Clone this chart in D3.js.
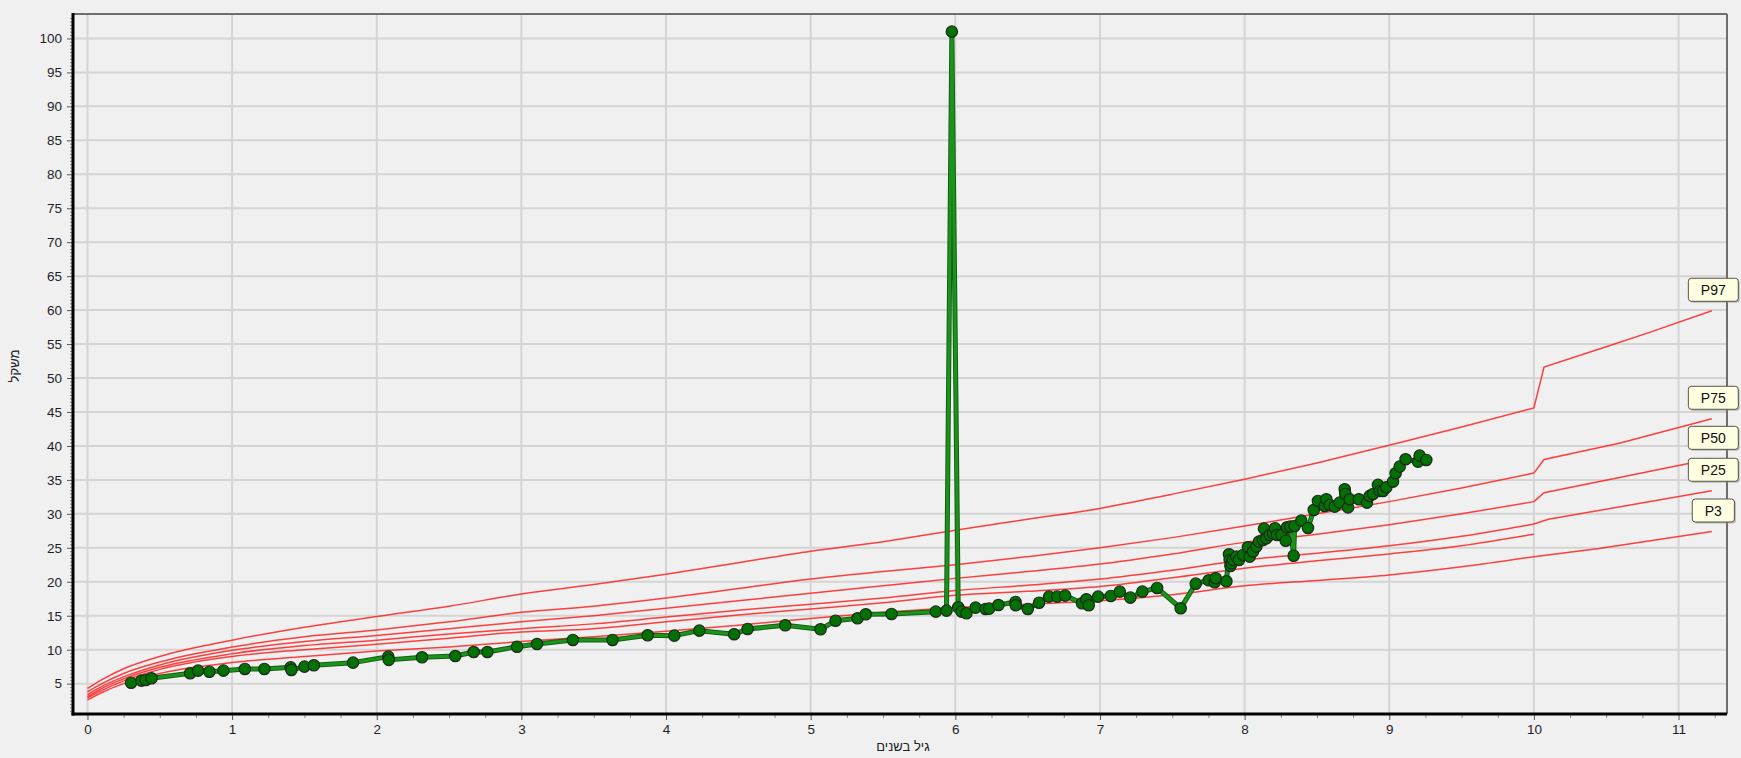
<!DOCTYPE html>
<html>
<head>
<meta charset="utf-8">
<script src="https://cdn.jsdelivr.net/npm/d3@7"></script>
<style>
  html, body { margin: 0; padding: 0; background: #f0f0f0; }
  svg { display: block; }
  text { font-family: "Liberation Sans", Arial, "DejaVu Sans", sans-serif; }
</style>
</head>
<body>
<svg id="chart" width="1741" height="758"></svg>
<script>
// ---------------- data ----------------
const xTicks = [0,1,2,3,4,5,6,7,8,9,10,11];
const yTicks = [5,10,15,20,25,30,35,40,45,50,55,60,65,70,75,80,85,90,95,100];
const xTitle = "גיל בשנים";
const yTitle = "משקל";

// percentile reference curves, ages 0..10
const curveAges = [0, 0.1, 0.25, 0.5, 1, 1.5, 2, 2.5, 3, 3.5, 4, 4.5, 5, 5.5, 6, 6.5, 7, 7.5, 8, 8.5, 9, 9.5, 10];
const p97 = [4.3, 5.6, 7.2, 9.0, 11.4, 13.3, 14.9, 16.4, 18.2, 19.6, 21.1, 22.8, 24.5, 25.9, 27.6, 29.2, 30.8, 32.9, 35.1, 37.5, 40.1, 42.8, 45.6];
const p75 = [3.8, 5.0, 6.5, 8.2, 10.4, 11.9, 12.9, 14.1, 15.5, 16.4, 17.6, 19.0, 20.4, 21.5, 22.5, 23.7, 25.0, 26.5, 28.2, 30.0, 31.8, 33.8, 36.0];
const p50 = [3.4, 4.6, 6.0, 7.75, 9.9, 11.2, 12.1, 13.1, 14.1, 15.0, 16.1, 17.2, 18.3, 19.4, 20.5, 21.5, 22.6, 24.1, 25.8, 27.0, 28.4, 30.0, 31.8];
const p25 = [3.1, 4.3, 5.7, 7.4, 9.4, 10.6, 11.4, 12.3, 13.1, 13.8, 14.8, 15.8, 16.7, 17.6, 18.7, 19.5, 20.4, 21.7, 23.2, 24.2, 25.3, 26.7, 28.5];
const p10 = [2.9, 4.0, 5.4, 7.1, 9.0, 10.0, 10.8, 11.7, 12.6, 13.1, 14.1, 15.1, 16.0, 16.9, 18.0, 18.6, 19.3, 20.6, 22.0, 23.1, 24.1, 25.3, 27.0];
const p3  = [2.6, 3.7, 5.0, 6.5, 8.1, 9.0, 9.8, 10.4, 11.2, 11.9, 12.7, 13.6, 14.6, 15.5, 16.2, 16.7, 17.2, 18.1, 19.4, 20.2, 21.0, 22.2, 23.7];

// continuation after age 10
const p97AgesAfter = [10.07, 10.5, 10.81, 11.23];
const p97After     = [51.6, 54.6, 56.8, 59.9];
const p75AgesAfter = [10.07, 10.59, 11.23];
const p75After     = [38.0, 40.4, 44.0];
const p50AgesAfter = [10.07, 10.6, 11.23];
const p50After     = [33.1, 35.4, 38.1];
const p25AgesAfter = [10.1, 11.23];
const p25After     = [29.2, 33.4];
const p3AgesAfter  = [10.45, 11.23];
const p3After      = [24.9, 27.4];

const percentileLabels = ["P97", "P75", "P50", "P25", "P3"];

// measured child weights
const childAges = [0.302,0.373,0.403,0.443,0.710,0.765,0.843,0.940,1.088,1.223,1.405,1.410,1.500,1.565,1.836,2.080,2.083,2.313,2.543,2.670,2.765,2.970,3.108,3.356,3.630,3.873,4.057,4.230,4.471,4.564,4.824,5.068,5.172,5.324,5.381,5.559,5.865,5.939,5.976,6.020,6.043,6.077,6.140,6.209,6.234,6.298,6.416,6.418,6.501,6.579,6.648,6.704,6.759,6.876,6.906,6.922,6.987,7.075,7.137,7.210,7.293,7.395,7.558,7.662,7.752,7.793,7.800,7.874,7.892,7.897,7.902,7.910,7.920,7.943,7.961,7.989,8.023,8.035,8.058,8.081,8.099,8.127,8.134,8.150,8.173,8.196,8.210,8.224,8.254,8.284,8.293,8.316,8.339,8.346,8.392,8.438,8.478,8.507,8.553,8.565,8.588,8.623,8.657,8.692,8.696,8.715,8.726,8.790,8.846,8.865,8.888,8.922,8.934,8.957,8.980,9.026,9.044,9.072,9.113,9.199,9.210,9.256];
const childWeights = [5.14,5.44,5.54,5.79,6.52,6.91,6.76,6.91,7.16,7.16,7.40,7.02,7.50,7.70,8.09,8.98,8.50,8.88,9.07,9.66,9.66,10.44,10.84,11.43,11.43,12.12,12.07,12.80,12.27,13.05,13.59,13.00,14.27,14.62,15.21,15.26,15.60,15.75,101.0,16.24,15.60,15.36,16.19,16.00,16.04,16.58,17.03,16.54,16.00,16.92,17.81,17.81,17.96,16.83,17.42,16.54,17.81,17.91,18.55,17.66,18.55,19.09,16.10,19.72,20.22,19.93,20.52,20.07,24.05,23.21,22.33,22.72,23.21,23.70,23.21,23.95,25.08,23.70,24.44,25.17,25.91,26.16,27.82,26.40,26.89,27.14,27.88,26.89,26.89,26.05,28.03,28.12,23.84,28.22,29.00,27.92,30.57,31.90,31.16,32.15,31.31,31.06,31.65,33.62,32.93,30.96,32.15,32.15,31.65,32.64,32.93,34.26,33.37,33.37,33.92,34.75,35.98,36.95,38.04,37.69,38.57,37.94];

// ---------------- drawing ----------------
const svg = d3.select("#chart");
const L = 73, R = 1727, T = 14, B = 714;

const x = d3.scaleLinear().domain([-0.1, 11.335]).range([L, R]);
const y = d3.scaleLinear().domain([0.53, 103.6]).range([B, T]);

svg.append("rect").attr("width", 1741).attr("height", 758).attr("fill", "#f0f0f0");

// grid
const grid = svg.append("g");
grid.selectAll("line.v").data(xTicks).join("line")
  .attr("x1", d => x(d)).attr("x2", d => x(d)).attr("y1", T).attr("y2", B)
  .attr("stroke", "#d4d4d4").attr("stroke-width", 2);
grid.selectAll("line.h").data(yTicks).join("line")
  .attr("x1", L).attr("x2", R).attr("y1", d => y(d)).attr("y2", d => y(d))
  .attr("stroke", "#d4d4d4").attr("stroke-width", 2);

// axes ticks
const xMinor = d3.range(0, 11.3, 0.25).filter(v => Math.abs(v - Math.round(v)) > 1e-6);
const yMinor = d3.range(1, 103.5, 0.5).filter(v => Math.abs(v / 5 - Math.round(v / 5)) > 1e-6);

const gxMinor = svg.append("g").attr("transform", `translate(0,${B})`)
  .call(d3.axisBottom(x).tickValues(xMinor).tickSize(4).tickFormat(""));
const gyMinor = svg.append("g").attr("transform", `translate(${L},0)`)
  .call(d3.axisLeft(y).tickValues(yMinor).tickSize(3).tickFormat(""));
[gxMinor, gyMinor].forEach(g => {
  g.select(".domain").remove();
  g.selectAll("line").attr("stroke", "#8a8a8a").attr("stroke-width", 1);
});

const gx = svg.append("g").attr("transform", `translate(0,${B})`)
  .call(d3.axisBottom(x).tickValues(xTicks).tickSize(6).tickPadding(4).tickFormat(d3.format("d")));
const gy = svg.append("g").attr("transform", `translate(${L},0)`)
  .call(d3.axisLeft(y).tickValues(yTicks).tickSize(6).tickPadding(5).tickFormat(d3.format("d")));
[gx, gy].forEach(g => {
  g.select(".domain").remove();
  g.selectAll("line").attr("stroke", "#555").attr("stroke-width", 1);
  g.selectAll("text").attr("fill", "#1e1e2a").style("font-size", "13.5px")
    .style("font-family", '"Liberation Sans", Arial, sans-serif');
});

// frame
svg.append("line").attr("x1", L).attr("x2", R).attr("y1", T).attr("y2", T)
  .attr("stroke", "#6e6e6e").attr("stroke-width", 2);
svg.append("line").attr("x1", R).attr("x2", R).attr("y1", T).attr("y2", B)
  .attr("stroke", "#6e6e6e").attr("stroke-width", 2);
svg.append("line").attr("x1", L).attr("x2", L).attr("y1", T - 1).attr("y2", B + 1.5)
  .attr("stroke", "#000").attr("stroke-width", 3);
svg.append("line").attr("x1", L - 1.5).attr("x2", R).attr("y1", B).attr("y2", B)
  .attr("stroke", "#000").attr("stroke-width", 3);

// axis titles
svg.append("text").attr("x", (L + R) / 2 + 3).attr("y", 751)
  .attr("text-anchor", "middle").attr("fill", "#222").style("font-size", "13px")
  .text(xTitle);
svg.append("text").attr("transform", `translate(19,${(T + B) / 2 + 2}) rotate(-90)`)
  .attr("text-anchor", "middle").attr("fill", "#222").style("font-size", "13px")
  .text(yTitle);

// percentile curves: smooth up to age 10, straight segments afterwards
const zip = (a, b) => a.map((v, i) => [v, b[i]]);
const curves = [
  { name: "P97", main: zip(curveAges, p97), after: zip(p97AgesAfter, p97After) },
  { name: "P75", main: zip(curveAges, p75), after: zip(p75AgesAfter, p75After) },
  { name: "P50", main: zip(curveAges, p50), after: zip(p50AgesAfter, p50After) },
  { name: "P25", main: zip(curveAges, p25), after: zip(p25AgesAfter, p25After) },
  { name: "P10", main: zip(curveAges, p10), after: [] },
  { name: "P3",  main: zip(curveAges, p3),  after: zip(p3AgesAfter, p3After) }
];
const smoothLine = d3.line().x(d => x(d[0])).y(d => y(d[1])).curve(d3.curveMonotoneX);
const straightLine = d3.line().x(d => x(d[0])).y(d => y(d[1]));
const cg = svg.append("g").attr("fill", "none").attr("stroke", "#ff2020")
  .attr("stroke-width", 1.5).attr("stroke-opacity", 0.85);
curves.forEach(c => {
  cg.append("path").attr("d", smoothLine(c.main));
  if (c.after.length) {
    cg.append("path").attr("d", straightLine([c.main[c.main.length - 1]].concat(c.after)));
  }
});

// child series
const child = zip(childAges, childWeights);
const childLine = d3.line().x(d => x(d[0])).y(d => y(d[1]));
svg.append("path").attr("d", childLine(child)).attr("fill", "none")
  .attr("stroke", "#125f12").attr("stroke-width", 5).attr("stroke-linejoin", "round");
svg.append("path").attr("d", childLine(child)).attr("fill", "none")
  .attr("stroke", "#1c941c").attr("stroke-width", 3).attr("stroke-linejoin", "round");
svg.append("g").selectAll("circle").data(child).join("circle")
  .attr("cx", d => x(d[0])).attr("cy", d => y(d[1])).attr("r", 5.7)
  .attr("fill", "#037103").attr("stroke", "#1a2a1a").attr("stroke-width", 1.2);

// percentile labels at the end of the curves
const labelled = curves.filter(c => percentileLabels.includes(c.name));
const lg = svg.append("g");
labelled.forEach(c => {
  const pts = c.after.length ? c.after : c.main;
  const last = pts[pts.length - 1];
  const cx = x(last[0]) + 1.5;
  const cy = y(last[1]) - 21;
  const g = lg.append("g");
  const t = g.append("text").attr("x", cx).attr("y", cy).attr("dy", "0.36em")
    .attr("text-anchor", "middle").attr("fill", "#111").style("font-size", "14px").text(c.name);
  const w = t.node().getComputedTextLength() + 25;
  const h = 23;
  g.insert("rect", "text").attr("x", cx - w / 2 + 1.5).attr("y", cy - h / 2 + 1.5)
    .attr("width", w).attr("height", h).attr("rx", 3).attr("fill", "#8c8c8c").attr("opacity", 0.55);
  g.insert("rect", "text").attr("x", cx - w / 2).attr("y", cy - h / 2)
    .attr("width", w).attr("height", h).attr("rx", 3)
    .attr("fill", "#ffffe1").attr("stroke", "#55554a").attr("stroke-width", 1);
});
</script>
</body>
</html>
